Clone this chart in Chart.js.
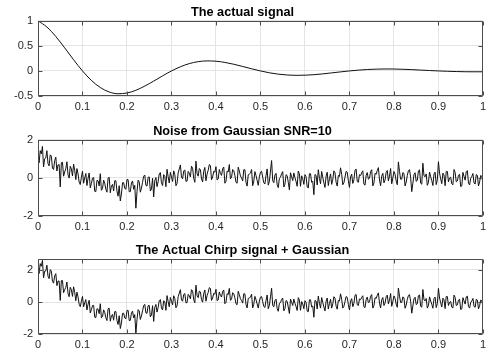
<!DOCTYPE html>
<html>
<head>
<meta charset="utf-8">
<script src="https://cdn.jsdelivr.net/npm/chart.js@4"></script>
<style>
  html, body { margin: 0; padding: 0; background: #fff; }
  #wrap { position: relative; width: 490px; height: 353px; }
  canvas { position: absolute; left: 0; }
</style>
</head>
<body>
<div id="wrap">
  <canvas id="signal" style="top:0px" width="490" height="119"></canvas>
  <canvas id="noise" style="top:119px" width="490" height="119"></canvas>
  <canvas id="noisy" style="top:238px" width="490" height="115"></canvas>
</div>
<script>
const titles = ['The actual signal', 'Noise from Gaussian SNR=10', 'The Actual Chirp signal + Gaussian'];
const xTicks = [0, 0.1, 0.2, 0.3, 0.4, 0.5, 0.6, 0.7, 0.8, 0.9, 1];
const yTicksSignal = [-0.5, 0, 0.5, 1];
const yTicksNoise = [-2, 0, 2];
const yTicksNoisy = [-2, 0, 2];

const signalStep = 0.02;
const signalValues = [
    1, 0.876, 0.687, 0.46, 0.223, 0, -0.189, -0.331, -0.42, -0.455,
    -0.44, -0.386, -0.302, -0.203, -0.098, 0, 0.083, 0.146, 0.185, 0.2,
    0.194, 0.17, 0.133, 0.089, 0.043, 0, -0.037, -0.064, -0.081, -0.088,
    -0.085, -0.075, -0.059, -0.039, -0.019, 0, 0.016, 0.028, 0.036, 0.039,
    0.038, 0.033, 0.026, 0.017, 0.008, 0, -0.007, -0.012, -0.016, -0.017,
    -0.017
];

const sampleStep = 0.0025;
const noiseValues = [
    1.05, .79, 1.43, 1.26, 1.65, .58, 1.01, 1.05, 1.43, .75, .63, 1.21, 1.14, .51, .44, .91, 1.09, .36, .68, .70,
    -.47, .80, .82, .09, .31, .48, .85, .17, -.01, .61, .48, .10, .72, .39, -.09, .49, .21, -.22, -.35, .03,
    .35, -.28, .00, .23, -.40, -.02, .26, -.52, -.29, -.01, .02, -.70, -.72, -.13, -.15, -.42, .22, -.65, -.56, -.12,
    -.28, -.59, -.75, -.01, .03, -.78, -.43, -.34, -.69, -.15, -.15, -.70, -.96, -.41, -1.21, -.85, -.25, -.25, -.55, -.59,
    -.09, -.09, -.73, -.72, -.27, -.16, -.60, -.39, -1.59, -.73, -.12, -.21, -.75, -.54, -.23, .09, .15, -.39, -.43, .03,
    .05, -.69, -.58, -.02, -1.00, -.14, .02, -.46, -.20, .21, .28, -.26, -.40, .17, .08, -.46, .45, .06, -.27, .29,
    .05, -.19, .37, .18, -.41, -.30, .26, .47, .68, .04, -.05, .36, .42, -.18, -.17, .34, .25, .05, .61, .51,
    -.03, -.23, .88, .23, .09, .49, .44, -.06, -.21, .35, .55, -.15, .20, .40, .70, .65, -.10, .05, .35, .30,
    .59, -.11, -.06, .44, .24, .13, .48, .57, -.28, -.18, .36, .31, .70, -.05, .04, .44, .38, .13, -.23, -.28,
    .56, .36, .10, .00, -.16, .43, .43, -.23, -.43, .16, .20, .25, .44, -.41, -.17, .33, .12, -.13, -.39, .06,
    .30, .35, .04, -.26, -.32, .13, .47, -.38, -.19, .36, .91, -.15, -.25, .15, .24, -.36, -.51, -.02, .03, .23,
    .33, -.48, -.33, .17, .12, -.23, -.63, .27, .06, -.14, .26, .01, -.19, -.44, .36, .21, -.44, .11, -.04, -.34,
    .17, .07, -.48, -.53, .22, .22, -.23, -.18, -.88, .18, .13, -.37, .43, -.02, -.31, .34, .04, -.26, -.50, .10,
    .30, -.40, -.04, .21, -.34, -.09, .37, .27, -.23, -.43, .13, .08, .53, .18, -.36, -.26, .04, .34, .30, -.15,
    -.50, .05, .20, -.29, -.09, .41, .46, -.19, -.23, .17, .12, .27, .37, -.33, -.38, .13, .28, -.07, -.02, .33,
    .43, -.42, -.27, .24, .19, .39, .54, -.11, -.41, .09, .24, -.26, -.11, .29, .39, -.16, .09, .49, -.31, -.01,
    .34, .19, -.16, -.36, .84, .34, -.07, -.07, .28, .23, -.42, -.22, .13, .38, .43, .03, -.72, -.28, .17, .27,
    -.18, -.13, .37, .42, -.28, -.33, .77, .11, .06, .21, -.39, -.24, .31, .06, -.14, -.40, .20, .30, -.35, -.10,
    .85, .25, -.05, -.30, .25, .15, -.41, .34, .34, -.21, -.01, .04, -.31, -.36, .44, .29, -.21, -.16, .14, .19,
    -.46, -.42, .29, .08, -.12, .33, .38, -.27, -.37, -.02, .08, .23, -.27, -.32, .18, .13, -.42, -.22, .13, .08,
    -.22
];
const noisyValues = [
    2.05, 1.78, 2.40, 2.23, 2.60, 1.51, 1.93, 1.94, 2.30, 1.61, 1.46, 2.02, 1.93, 1.28, 1.18, 1.63, 1.77, 1.02, 1.31, 1.31,
    .10, 1.34, 1.34, .58, .77, .91, 1.25, .54, .33, .92, .76, .35, .95, .59, .08, .62, .32, -.14, -.29, .05,
    .35, -.30, -.05, .15, -.50, -.14, .11, -.68, -.48, -.22, -.21, -.95, -.98, -.42, -.45, -.73, -.11, -.99, -.92, -.49,
    -.66, -.99, -1.16, -.42, -.39, -1.20, -.87, -.78, -1.14, -.60, -.60, -1.16, -1.41, -.86, -1.66, -1.31, -.71, -.70, -1.00, -1.04,
    -.53, -.52, -1.16, -1.15, -.69, -.57, -1.00, -.79, -1.97, -1.10, -.48, -.56, -1.09, -.87, -.55, -.23, -.15, -.68, -.71, -.23,
    -.21, -.93, -.81, -.23, -1.21, -.33, -.15, -.63, -.35, .08, .15, -.37, -.50, .08, .01, -.52, .40, .03, -.30, .28,
    .05, -.18, .39, .22, -.36, -.24, .33, .55, .77, .13, .05, .47, .53, -.05, -.04, .48, .39, .20, .77, .68,
    .14, -.05, 1.05, .41, .27, .68, .63, .14, -.01, .54, .75, .05, .40, .60, .90, .85, .10, .25, .54, .49,
    .79, .08, .13, .63, .42, .31, .66, .75, -.11, -.02, .52, .46, .85, .10, .19, .58, .52, .26, -.11, -.17,
    .67, .46, .20, .09, -.07, .52, .50, -.16, -.37, .22, .26, .30, .49, -.37, -.14, .35, .14, -.12, -.38, .06,
    .30, .34, .03, -.28, -.34, .10, .44, -.42, -.22, .32, .86, -.20, -.30, .09, .18, -.42, -.58, -.08, -.04, .16,
    .25, -.55, -.41, .09, .04, -.32, -.72, .18, -.02, -.22, .18, -.08, -.28, -.53, .27, .12, -.52, .03, -.12, -.42,
    .08, -.02, -.57, -.61, .14, .14, -.31, -.25, -.95, .10, .06, -.44, .37, -.08, -.38, .28, -.02, -.31, -.56, .05,
    .25, -.44, -.09, .17, -.38, -.12, .33, .24, -.26, -.45, .10, .06, .51, .17, -.38, -.27, .03, .34, .29, -.16,
    -.50, .05, .21, -.29, -.08, .42, .47, -.17, -.22, .19, .14, .29, .39, -.30, -.35, .15, .31, -.04, .01, .36,
    .46, -.38, -.23, .27, .22, .42, .57, -.07, -.37, .13, .28, -.22, -.07, .33, .43, -.12, .13, .53, -.27, .03,
    .38, .23, -.13, -.33, .87, .37, -.03, -.03, .32, .26, -.39, -.19, .16, .41, .46, .05, -.70, -.25, .20, .30,
    -.16, -.11, .39, .44, -.27, -.32, .78, .13, .07, .22, -.38, -.23, .32, .06, -.14, -.39, .21, .31, -.35, -.10,
    .85, .25, -.05, -.31, .24, .14, -.41, .34, .34, -.22, -.02, .03, -.32, -.37, .43, .28, -.22, -.18, .12, .17,
    -.47, -.43, .27, .07, -.13, .32, .37, -.28, -.38, -.03, .07, .22, -.28, -.33, .17, .12, -.43, -.23, .12, .07,
    -.23
];

const fontFamily = '"Liberation Sans", Arial, sans-serif';

const boxPlugin = {
    id: 'matlabBox',
    afterDraw(chart) {
        const { ctx, chartArea: a, scales } = chart;
        const left = Math.round(a.left) + 0.5;
        const right = Math.round(a.right) - 0.5;
        const top = Math.round(a.top) + 0.5;
        const bottom = Math.round(a.bottom) - 0.5;
        ctx.save();
        ctx.strokeStyle = '#4d4d4d';
        ctx.lineWidth = 1;
        ctx.beginPath();
        scales.x.ticks.forEach(t => {
            let px = Math.round(scales.x.getPixelForValue(t.value)) + 0.5;
            ctx.moveTo(px, bottom); ctx.lineTo(px, bottom - 4);
            ctx.moveTo(px, top); ctx.lineTo(px, top + 4);
        });
        scales.y.ticks.forEach(t => {
            let py = Math.round(scales.y.getPixelForValue(t.value)) + 0.5;
            ctx.moveTo(left, py); ctx.lineTo(left + 4, py);
            ctx.moveTo(right, py); ctx.lineTo(right - 4, py);
        });
        ctx.rect(left, top, right - left, bottom - top);
        ctx.stroke();
        ctx.restore();
    }
};

function toPoints(values, step) {
    return values.map((v, i) => ({ x: i * step, y: v }));
}

function makePanel(id, title, points, smooth, yMin, yMax, yTicks, xAxisHeight) {
    return new Chart(document.getElementById(id), {
        type: 'line',
        data: {
            datasets: [
                {
                    data: points,
                    borderColor: '#111',
                    borderWidth: 1,
                    pointRadius: 0,
                    cubicInterpolationMode: smooth ? 'monotone' : 'default',
                    tension: 0,
                }
            ],
        },
        options: {
            responsive: false,
            devicePixelRatio: 1,
            animation: false,
            layout: { padding: { left: 0, right: 5, top: 0, bottom: 0 } },
            plugins: {
                legend: { display: false },
                tooltip: { enabled: false },
                title: {
                    display: true,
                    text: title,
                    color: '#000',
                    font: { family: fontFamily, size: 12.7, weight: 'bold', lineHeight: 1.2 },
                    padding: { top: 5.1, bottom: 0.46 },
                },
            },
            scales: {
                x: {
                    type: 'linear',
                    min: 0,
                    max: 1,
                    afterBuildTicks: scale => { scale.ticks = xTicks.map(v => ({ value: v })); },
                    afterFit: scale => { scale.height = xAxisHeight; },
                    grid: { color: '#e4e4e4', drawTicks: false },
                    border: { display: false },
                    ticks: {
                        autoSkip: false,
                        maxRotation: 0,
                        padding: 4,
                        color: '#262626',
                        font: { family: fontFamily, size: 11 },
                        callback: v => String(v),
                    },
                },
                y: {
                    min: yMin,
                    max: yMax,
                    afterBuildTicks: scale => { scale.ticks = yTicks.map(v => ({ value: v })); },
                    afterFit: scale => { scale.width = 38; },
                    grid: { color: '#e4e4e4', drawTicks: false },
                    border: { display: false },
                    ticks: {
                        padding: 5,
                        color: '#262626',
                        font: { family: fontFamily, size: 11 },
                        callback: v => String(v),
                    },
                },
            },
        },
        plugins: [boxPlugin],
    });
}

window.onload = () => {
    let signal = makePanel('signal', titles[0], toPoints(signalValues, signalStep), true, -0.5, 1, yTicksSignal, 23);
    let noise = makePanel('noise', titles[1], toPoints(noiseValues, sampleStep), false, -2, 2, yTicksNoise, 22);
    let noisy = makePanel('noisy', titles[2], toPoints(noisyValues, sampleStep), false, -2, 2.7, yTicksNoisy, 19);
};
</script>
</body>
</html>
